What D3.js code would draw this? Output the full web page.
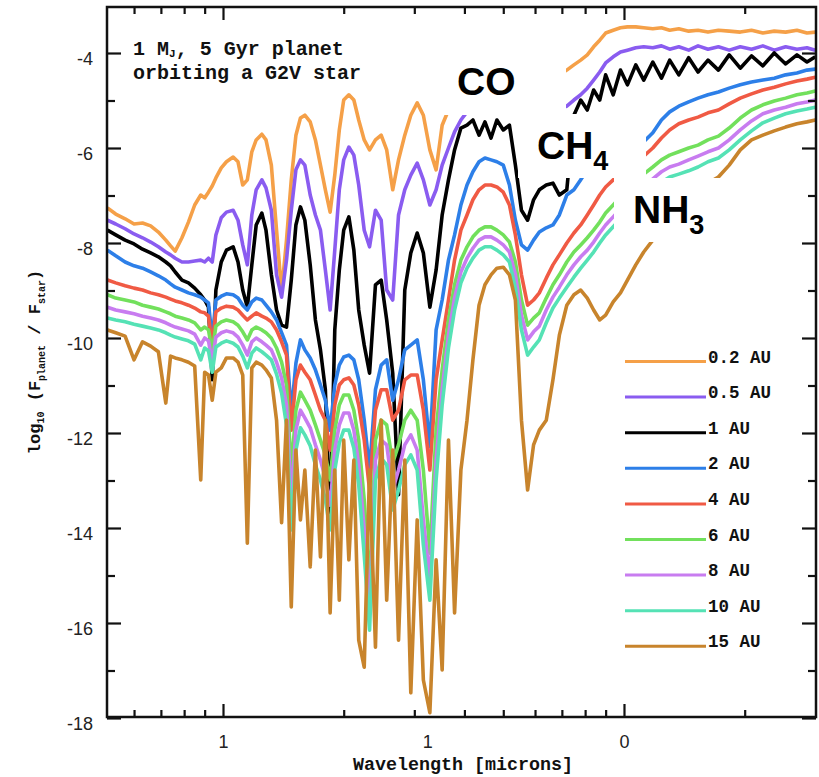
<!DOCTYPE html>
<html><head><meta charset="utf-8">
<script src="https://cdn.jsdelivr.net/npm/d3@7"></script>
<style>body{margin:0;background:#fff}</style>
</head><body>
<svg id="chart" width="819" height="777"></svg>
<script>
// ---------- DATA ----------
const wavelengths = [0.515,0.54,0.57,0.60,0.63,0.66,0.69,0.72,0.74,0.76,0.79,0.82,0.85,0.88,0.90,0.92,0.94,0.96,0.99,1.02,1.06,1.09,1.12,1.15,1.18,1.21,1.25,1.28,1.32,1.36,1.40,1.44,1.48,1.52,1.56,1.60,1.65,1.70,1.75,1.80,1.85,1.90,1.95,2.00,2.06,2.12,2.18,2.25,2.32,2.40,2.48,2.56,2.65,2.74,2.84,2.94,3.05,3.16,3.28,3.40,3.52,3.65,3.78,3.92,4.06,4.20,4.35,4.50,4.66,4.82,5.00,5.18,5.36,5.55,5.75,5.95,6.15,6.40,6.65,6.90,7.20,7.50,7.80,8.10,8.40,8.70,9.00,9.40,9.80,10.2,10.7,11.2,11.8,12.4,13.0,13.7,14.5,15.3,16.2,17.2,18.3,19.5,20.8,22.2,23.7,25.3,27.0,28.6,30.0];

const au02 = [-7.26,-7.39,-7.49,-7.60,-7.58,-7.64,-7.77,-7.94,-8.06,-8.17,
-7.89,-7.56,-7.20,-6.99,-7.05,-6.93,-6.80,-6.63,-6.42,-6.29,
-6.19,-6.29,-6.78,-6.67,-6.08,-5.83,-5.71,-5.83,-6.36,-7.73,
-9.03,-7.94,-6.67,-5.73,-5.37,-5.31,-5.45,-5.83,-6.36,-6.88,
-7.35,-6.57,-5.62,-4.99,-4.88,-4.99,-5.41,-5.83,-6.04,-5.83,
-5.73,-6.04,-6.88,-6.25,-5.73,-5.31,-5.05,-5.31,-6.04,-6.46,
-5.52,-5.20,-4.88,-4.57,-4.36,-4.19,-4.10,-4.04,-4.04,-4.08,
-4.15,-4.25,-4.46,-4.67,-4.78,-4.74,-4.67,-4.63,-4.57,-4.46,
-4.36,-4.25,-4.15,-4.04,-3.87,-3.73,-3.58,-3.52,-3.47,-3.45,
-3.45,-3.47,-3.49,-3.47,-3.52,-3.49,-3.54,-3.52,-3.56,-3.52,
-3.54,-3.56,-3.52,-3.58,-3.54,-3.56,-3.52,-3.58,-3.56];

const au05 = [-7.52,-7.60,-7.70,-7.81,-7.89,-7.98,-8.08,-8.19,-8.25,-8.32,
-8.40,-8.40,-8.38,-8.36,-8.40,-8.32,-8.40,-7.83,-7.47,-7.35,
-7.31,-7.52,-8.04,-8.46,-7.41,-6.88,-6.67,-6.84,-7.31,-8.67,
-9.14,-8.36,-7.31,-6.46,-6.25,-6.36,-6.99,-7.41,-7.73,-8.57,
-9.41,-8.15,-6.88,-6.25,-5.98,-6.15,-6.78,-7.73,-8.08,-7.31,
-7.52,-8.99,-9.20,-7.41,-6.88,-6.57,-6.32,-6.67,-7.20,-6.88,
-6.36,-6.00,-5.66,-5.41,-5.24,-4.99,-4.88,-4.82,-4.78,-4.82,
-4.88,-4.99,-5.09,-5.20,-5.24,-5.24,-5.20,-5.20,-5.16,-5.16,
-5.12,-4.99,-4.88,-4.74,-4.57,-4.40,-4.21,-4.08,-3.98,-3.94,
-3.89,-3.87,-3.89,-3.85,-3.92,-3.87,-3.94,-3.85,-3.92,-3.87,
-3.94,-3.87,-3.92,-3.85,-3.94,-3.87,-3.92,-3.89,-3.94];

const au1 = [-7.73,-7.83,-7.94,-8.02,-8.13,-8.21,-8.29,-8.40,-8.48,-8.61,
-8.78,-8.84,-8.95,-9.09,-9.20,-9.35,-10.88,-8.99,-8.40,-8.15,
-8.08,-8.40,-8.99,-9.35,-8.46,-7.62,-7.37,-7.73,-8.67,-9.41,
-9.73,-9.77,-8.78,-7.62,-7.24,-7.52,-8.46,-9.62,-10.25,-11.09,
-13.89,-9.83,-8.57,-7.73,-7.45,-8.15,-9.41,-10.15,-10.74,-8.88,
-8.78,-9.62,-10.74,-13.30,-8.99,-8.21,-7.79,-8.21,-9.35,-8.57,
-7.41,-6.67,-6.04,-5.58,-5.52,-5.41,-5.73,-5.45,-5.79,-5.41,
-5.62,-5.52,-6.36,-7.31,-7.52,-7.09,-6.88,-6.78,-6.74,-6.99,
-6.88,-5.31,-4.99,-5.20,-4.78,-4.99,-4.46,-4.88,-4.36,-4.67,
-4.25,-4.57,-4.19,-4.53,-4.15,-4.46,-4.10,-4.40,-4.15,-4.36,
-4.04,-4.32,-4.06,-4.27,-4.00,-4.23,-4.04,-4.19,-4.08];

const au2 = [-8.15,-8.27,-8.40,-8.48,-8.53,-8.61,-8.69,-8.78,-8.86,-8.93,
-8.99,-9.05,-9.09,-9.14,-9.20,-9.26,-10.04,-9.20,-9.12,-9.07,
-9.09,-9.16,-9.31,-9.41,-9.24,-9.16,-9.20,-9.31,-9.45,-9.62,
-9.89,-10.15,-11.58,-10.53,-10.04,-10.25,-10.42,-10.67,-10.99,-11.31,
-11.94,-10.99,-10.57,-10.40,-10.36,-10.46,-10.88,-11.73,-12.78,-11.09,
-10.57,-10.46,-11.31,-10.88,-10.25,-10.15,-10.04,-10.88,-12.29,-9.83,
-9.20,-8.36,-7.83,-7.20,-6.78,-6.50,-6.29,-6.21,-6.25,-6.29,
-6.36,-6.78,-7.52,-8.04,-8.15,-7.94,-7.77,-7.68,-7.62,-7.41,
-6.99,-6.88,-6.67,-6.46,-6.25,-6.08,-5.96,-5.85,-5.79,-5.77,
-5.83,-5.87,-5.68,-5.41,-5.24,-5.12,-5.03,-4.95,-4.88,-4.82,
-4.74,-4.67,-4.61,-4.57,-4.53,-4.46,-4.42,-4.36,-4.34];

const au4 = [-8.78,-8.84,-8.90,-8.95,-8.99,-9.05,-9.09,-9.14,-9.18,-9.22,
-9.26,-9.31,-9.37,-9.45,-9.47,-9.54,-10.15,-9.45,-9.37,-9.33,
-9.35,-9.41,-9.52,-9.62,-9.54,-9.47,-9.54,-9.58,-9.66,-9.83,
-10.08,-10.36,-11.94,-10.88,-10.57,-10.72,-10.88,-11.20,-11.52,-11.73,
-12.36,-11.41,-10.99,-10.88,-10.84,-10.99,-11.41,-12.15,-13.20,-11.52,
-11.09,-11.09,-11.73,-11.52,-10.88,-10.78,-10.78,-11.52,-12.78,-10.88,
-10.04,-9.20,-8.36,-7.73,-7.41,-7.09,-6.88,-6.78,-6.78,-6.82,
-6.93,-7.20,-7.83,-8.67,-9.31,-9.20,-9.05,-8.74,-8.46,-8.25,
-8.00,-7.79,-7.62,-7.41,-7.20,-6.99,-6.82,-6.67,-6.53,-6.42,
-6.29,-6.17,-6.00,-5.79,-5.62,-5.49,-5.41,-5.35,-5.26,-5.20,
-5.07,-4.95,-4.86,-4.78,-4.72,-4.65,-4.59,-4.55,-4.51];

const au6 = [-9.09,-9.16,-9.20,-9.24,-9.31,-9.35,-9.39,-9.45,-9.49,-9.54,
-9.58,-9.62,-9.68,-9.83,-9.77,-9.83,-10.29,-9.75,-9.66,-9.62,
-9.66,-9.73,-9.87,-10.04,-9.83,-9.77,-9.83,-9.89,-10.00,-10.21,
-10.51,-10.99,-12.78,-11.52,-11.14,-11.31,-11.52,-11.83,-12.15,-12.46,
-12.99,-11.94,-11.41,-11.20,-11.20,-11.52,-12.15,-13.41,-15.24,-12.15,
-11.73,-11.83,-12.63,-12.25,-11.73,-11.52,-11.73,-12.78,-14.53,-11.94,
-10.67,-9.62,-8.88,-8.36,-8.08,-7.87,-7.73,-7.66,-7.66,-7.73,
-7.83,-7.98,-8.40,-9.20,-9.73,-9.58,-9.47,-9.16,-8.88,-8.67,
-8.40,-8.19,-8.04,-7.89,-7.73,-7.56,-7.37,-7.20,-7.03,-6.88,
-6.72,-6.55,-6.40,-6.25,-6.15,-6.08,-6.00,-5.94,-5.83,-5.75,
-5.58,-5.37,-5.20,-5.09,-5.01,-4.95,-4.88,-4.84,-4.80];

const au8 = [-9.35,-9.41,-9.45,-9.49,-9.54,-9.58,-9.62,-9.68,-9.73,-9.77,
-9.81,-9.85,-9.92,-10.15,-10.00,-10.06,-10.51,-9.98,-9.89,-9.85,
-9.89,-9.98,-10.15,-10.36,-10.08,-10.00,-10.08,-10.15,-10.25,-10.51,
-10.84,-11.41,-13.41,-11.94,-11.52,-11.68,-11.89,-12.25,-12.57,-12.95,
-13.52,-12.36,-11.83,-11.58,-11.58,-11.94,-12.67,-14.04,-15.73,-12.57,
-12.15,-12.25,-13.20,-12.78,-12.25,-12.04,-12.36,-13.83,-15.09,-12.57,
-11.09,-9.94,-9.16,-8.61,-8.32,-8.11,-7.94,-7.87,-7.87,-7.94,
-8.04,-8.19,-8.67,-9.52,-10.04,-9.87,-9.75,-9.41,-9.14,-8.93,
-8.67,-8.46,-8.29,-8.15,-7.98,-7.79,-7.62,-7.45,-7.28,-7.14,
-6.97,-6.80,-6.65,-6.50,-6.40,-6.34,-6.25,-6.17,-6.08,-6.00,
-5.83,-5.62,-5.43,-5.28,-5.20,-5.14,-5.07,-5.03,-4.99];

const au10 = [-9.58,-9.62,-9.66,-9.71,-9.75,-9.79,-9.83,-9.89,-9.94,-9.98,
-10.02,-10.06,-10.13,-10.46,-10.21,-10.27,-10.72,-10.19,-10.11,-10.06,
-10.11,-10.19,-10.38,-10.63,-10.32,-10.21,-10.29,-10.36,-10.46,-10.76,
-11.16,-11.83,-14.04,-12.36,-11.89,-12.04,-12.27,-12.67,-12.99,-13.41,
-14.04,-12.78,-12.21,-11.94,-11.94,-12.32,-13.09,-14.57,-16.15,-12.99,
-12.53,-12.67,-13.62,-13.20,-12.67,-12.46,-12.78,-14.36,-15.52,-12.99,
-11.41,-10.21,-9.41,-8.84,-8.53,-8.32,-8.15,-8.08,-8.08,-8.15,
-8.25,-8.40,-8.95,-9.83,-10.36,-10.19,-10.04,-9.68,-9.37,-9.16,
-8.93,-8.72,-8.53,-8.36,-8.19,-8.00,-7.83,-7.66,-7.49,-7.35,
-7.18,-7.01,-6.86,-6.72,-6.61,-6.55,-6.48,-6.40,-6.29,-6.21,
-6.04,-5.83,-5.64,-5.47,-5.37,-5.28,-5.22,-5.18,-5.14];

const au15 = [-9.83,-9.89,-9.96,-10.46,-10.08,-10.17,-10.29,-11.37,-10.38,-10.42,
-10.46,-10.51,-10.59,-12.99,-10.72,-10.78,-11.31,-10.72,-10.63,-10.42,
-10.42,-10.51,-10.78,-14.32,-10.63,-10.51,-10.57,-10.67,-10.84,-11.73,
-13.89,-11.73,-15.66,-12.36,-13.83,-12.78,-14.82,-12.36,-14.61,-11.73,
-15.79,-12.78,-15.52,-12.15,-14.67,-12.57,-16.36,-16.93,-12.78,-16.51,
-11.73,-15.52,-12.36,-16.36,-12.57,-17.47,-13.83,-17.20,-17.89,-14.67,
-16.99,-12.15,-15.79,-12.78,-11.73,-10.46,-9.31,-8.88,-8.67,-8.53,
-8.51,-8.67,-9.20,-11.73,-13.20,-12.25,-11.94,-11.73,-10.88,-9.94,
-9.31,-9.09,-8.99,-9.16,-9.41,-9.62,-9.52,-9.24,-9.05,-8.78,
-8.46,-8.19,-7.94,-7.68,-7.47,-7.26,-7.05,-6.88,-6.74,-6.61,
-6.36,-6.04,-5.83,-5.73,-5.64,-5.56,-5.49,-5.45,-5.41];

const seriesLabels = ["0.2 AU","0.5 AU","1 AU","2 AU","4 AU","6 AU","8 AU","10 AU","15 AU"];
const seriesValues = [au02, au05, au1, au2, au4, au6, au8, au10, au15];
const seriesColors = ["#f5a048","#8a5cf0","#000000","#2d7fe8","#f05a44","#72e05c","#c87cf0","#55e2b5","#c8842c"];

const yMajorTicks = [-4,-6,-8,-10,-12,-14,-16,-18];
const yMinorTicks = [-5,-7,-9,-11,-13,-15,-17];
const xMajorTicks = [1,10];
const xMinorTicks = [0.6,0.7,0.8,0.9,2,3,4,5,6,7,8,9,20];
const xLabelPositions = [1,3.23,10];
const xLabelTexts = ["1","1","0"];

const moleculeMain = ["CO","CH","NH"];
const moleculeSub = ["","4","3"];

// ---------- CHART ----------
const svg = d3.select("#chart");
const L=107, R=816, T=7, B=717;
const x = d3.scaleLog().domain([0.5137,30.12]).range([L,R]);
const y = d3.scaleLinear().domain([-18,-3]).range([718,5.5]);
const MONO = "'Liberation Mono','DejaVu Sans Mono',monospace";
const SANS = "'Liberation Sans',Arial,sans-serif";

svg.append("rect").attr("width",819).attr("height",777).attr("fill","#fff");

svg.append("defs").append("clipPath").attr("id","plotclip")
  .append("rect").attr("x",L).attr("y",T).attr("width",R-L).attr("height",B-T);

const line = d3.line().x(d=>x(d[0])).y(d=>y(d[1]));
const gLines = svg.append("g").attr("clip-path","url(#plotclip)");
seriesValues.forEach((vals,i)=>{
  const pts = wavelengths.map((w,j)=>[w,vals[j]]);
  gLines.append("path").datum(pts).attr("d",line)
    .attr("fill","none").attr("stroke",seriesColors[i])
    .attr("stroke-width",3.6).attr("stroke-linejoin","round");
});

// ticks (inward, mirrored on all sides)
function ticks(axis, vals, size, tr){
  const g = svg.append("g").attr("transform",tr)
    .call(axis.tickValues(vals).tickSize(size).tickFormat(""));
  g.select(".domain").remove();
  g.selectAll(".tick line").attr("stroke","#111").attr("stroke-width",2.2);
}
ticks(d3.axisBottom(x), xMajorTicks, -13, `translate(0,${B})`);
ticks(d3.axisBottom(x), xMinorTicks, -7, `translate(0,${B})`);
ticks(d3.axisTop(x), xMajorTicks, -13, `translate(0,${T})`);
ticks(d3.axisTop(x), xMinorTicks, -7, `translate(0,${T})`);
ticks(d3.axisLeft(y), yMajorTicks, -14, `translate(${L},0)`);
ticks(d3.axisLeft(y), yMinorTicks, -8, `translate(${L},0)`);
ticks(d3.axisRight(y), yMajorTicks, -14, `translate(${R},0)`);
ticks(d3.axisRight(y), yMinorTicks, -8, `translate(${R},0)`);

// frame
svg.append("rect").attr("x",L).attr("y",T).attr("width",R-L).attr("height",B-T)
  .attr("fill","none").attr("stroke","#111").attr("stroke-width",2.5);

// tick labels
const yl = svg.append("g").attr("transform",`translate(${L},0)`)
  .call(d3.axisLeft(y).tickValues(yMajorTicks).tickSize(0).tickPadding(14).tickFormat(d=>String(d)));
yl.select(".domain").remove();
yl.selectAll("text").attr("font-family",SANS).attr("font-size",18).attr("fill","#222").attr("dy","0.62em");

const xl = svg.append("g").attr("transform",`translate(0,${B})`)
  .call(d3.axisBottom(x).tickValues(xLabelPositions).tickSize(0).tickPadding(18).tickFormat((d,i)=>xLabelTexts[i]));
xl.select(".domain").remove();
xl.selectAll("text").attr("font-family",SANS).attr("font-size",18).attr("fill","#222");

// axis titles
svg.append("text").attr("x",353).attr("y",770).attr("font-family",MONO).attr("font-weight","bold")
  .attr("font-size",19).attr("textLength",220).attr("lengthAdjust","spacingAndGlyphs").attr("fill","#111")
  .text("Wavelength  [microns]");

const yt = svg.append("text").attr("transform","translate(40,362) rotate(-90)")
  .attr("text-anchor","middle").attr("font-family",MONO).attr("font-weight","bold").attr("font-size",17).attr("fill","#111");
yt.append("tspan").text("log");
yt.append("tspan").attr("font-size",10).attr("dy",4).text("10");
yt.append("tspan").attr("dy",-4).text(" (F");
yt.append("tspan").attr("font-size",10).attr("dy",5).text("planet");
yt.append("tspan").attr("dy",-5).text(" / F");
yt.append("tspan").attr("font-size",10).attr("dy",5).text("star");
yt.append("tspan").attr("dy",-5).text(")");

// title
const t1 = svg.append("text").attr("x",133).attr("y",55).attr("font-family",MONO).attr("font-weight","bold").attr("font-size",20).attr("fill","#111");
t1.append("tspan").text("1 M");
t1.append("tspan").attr("font-size",11).attr("dy",2).text("J");
t1.append("tspan").attr("dy",-2).text(", 5 Gyr planet");
svg.append("text").attr("x",133).attr("y",79).attr("font-family",MONO).attr("font-weight","bold").attr("font-size",20).attr("fill","#111")
  .text("orbiting a G2V star");

// molecule annotation boxes
const boxes = [[437,51,129,64],[518,114,128,64],[614,178,123,64]];
const textPos = [[457,95],[537,159],[633,223]];
moleculeMain.forEach((m,i)=>{
  const b = boxes[i];
  svg.append("rect").attr("x",b[0]).attr("y",b[1]).attr("width",b[2]).attr("height",b[3]).attr("fill","#fff");
  const t = svg.append("text").attr("x",textPos[i][0]).attr("y",textPos[i][1])
    .attr("font-family",SANS).attr("font-weight","bold").attr("font-size",39).attr("fill","#000");
  t.append("tspan").text(m);
  if(moleculeSub[i]) t.append("tspan").attr("font-size",27).attr("dy",11).text(moleculeSub[i]);
});

// legend
const lg = svg.append("g");
seriesLabels.forEach((lab,i)=>{
  const yy = 361.5 + i*35.6;
  lg.append("line").attr("x1",625).attr("x2",706).attr("y1",yy).attr("y2",yy)
    .attr("stroke",seriesColors[i]).attr("stroke-width",3);
  lg.append("text").attr("x",708).attr("y",yy+1).attr("font-family",MONO).attr("font-weight","bold")
    .attr("font-size",17.5).attr("fill","#111").text(lab);
});
</script>
</body></html>
